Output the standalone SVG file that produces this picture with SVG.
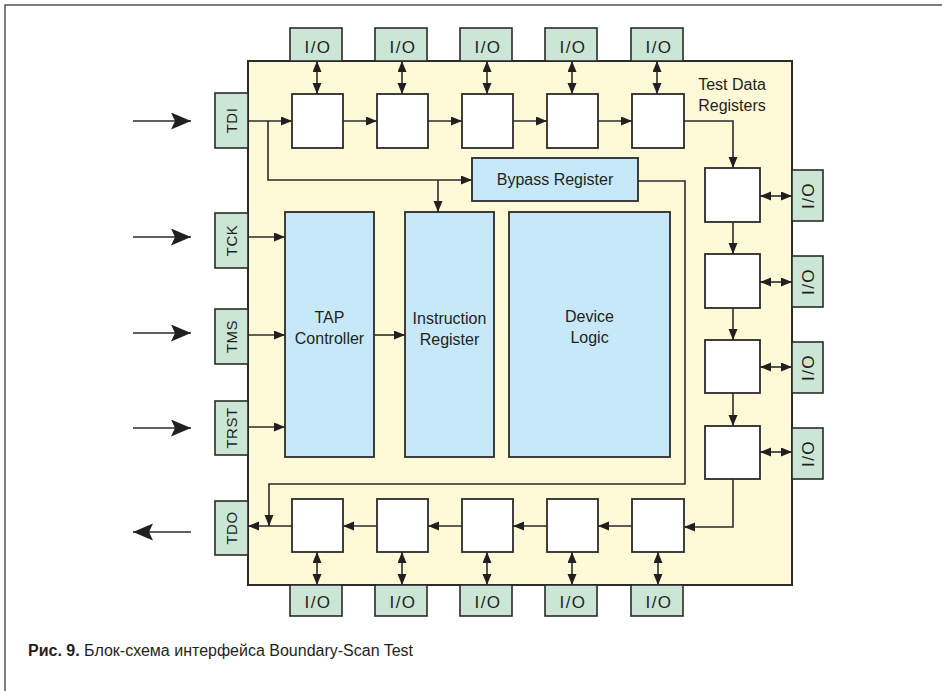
<svg xmlns="http://www.w3.org/2000/svg" width="942" height="691" viewBox="0 0 942 691">
<style>
.frame{fill:none;stroke:#555;stroke-width:1.5}
.chip{fill:#FEF9D6;stroke:#2b2b2b;stroke-width:2}
.pin{fill:#CCE6D5;stroke:#2b2b2b;stroke-width:1.6}
.blk{fill:#C7E8F9;stroke:#2b2b2b;stroke-width:1.8}
.cell{fill:#FFFFFF;stroke:#2b2b2b;stroke-width:1.8}
.ln{fill:none;stroke:#2b2b2b;stroke-width:1.6}
.a{marker-end:url(#ah)}
.aa{marker-end:url(#ah);marker-start:url(#ah)}
.big{marker-end:url(#bh)}
text{font-family:"Liberation Sans",Arial,sans-serif;fill:#231f20}
.lab{font-size:16px;text-anchor:middle}
.io{font-size:17px;letter-spacing:1.5px;text-anchor:middle}
.pl{font-size:15px;text-anchor:middle;dominant-baseline:central;letter-spacing:0.5px}
.cap{font-size:16px}
</style>
<defs>
<marker id="ah" markerUnits="userSpaceOnUse" markerWidth="12" markerHeight="10" refX="11" refY="4.5" orient="auto-start-reverse" viewBox="0 0 12 10">
<path d="M0,0 L11,4.5 L0,9 z" fill="#231f20"/>
</marker>
<marker id="bh" markerUnits="userSpaceOnUse" markerWidth="22" markerHeight="18" refX="20" refY="8.5" orient="auto-start-reverse" viewBox="0 0 22 18">
<path d="M0,0 L20,8.5 L0,17 L4,8.5 z" fill="#231f20"/>
</marker>
</defs>

<path class="frame" d="M5,691 L5,5 L942,5"/>

<g id="chip"><rect class="chip" x="248" y="61" width="544" height="524"/></g>

<g id="pins-left">
<g id="pin-TDI"><rect class="pin" x="215" y="93" width="33" height="55"/><text class="pl" transform="translate(231.5,120.5) rotate(-90)">TDI</text></g>
<g id="pin-TCK"><rect class="pin" x="215" y="213" width="33" height="55"/><text class="pl" transform="translate(231.5,240.5) rotate(-90)">TCK</text></g>
<g id="pin-TMS"><rect class="pin" x="215" y="309" width="33" height="55"/><text class="pl" transform="translate(231.5,336.5) rotate(-90)">TMS</text></g>
<g id="pin-TRST"><rect class="pin" x="215" y="401" width="33" height="54"/><text class="pl" transform="translate(231.5,428) rotate(-90)">TRST</text></g>
<g id="pin-TDO"><rect class="pin" x="215" y="501" width="33" height="54"/><text class="pl" transform="translate(231.5,528) rotate(-90)">TDO</text></g>
</g>

<g id="io-top">
<g id="io-t1"><rect class="pin" x="290" y="28" width="52" height="33"/><text class="io" x="318" y="53">I/O</text></g>
<g id="io-t2"><rect class="pin" x="375" y="28" width="52" height="33"/><text class="io" x="403" y="53">I/O</text></g>
<g id="io-t3"><rect class="pin" x="460" y="28" width="52" height="33"/><text class="io" x="488" y="53">I/O</text></g>
<g id="io-t4"><rect class="pin" x="545" y="28" width="52" height="33"/><text class="io" x="573" y="53">I/O</text></g>
<g id="io-t5"><rect class="pin" x="631" y="28" width="52" height="33"/><text class="io" x="659" y="53">I/O</text></g>
</g>

<g id="io-bottom">
<g id="io-b1"><rect class="pin" x="290" y="585" width="52" height="31"/><text class="io" x="318" y="608">I/O</text></g>
<g id="io-b2"><rect class="pin" x="375" y="585" width="52" height="31"/><text class="io" x="403" y="608">I/O</text></g>
<g id="io-b3"><rect class="pin" x="460" y="585" width="52" height="31"/><text class="io" x="488" y="608">I/O</text></g>
<g id="io-b4"><rect class="pin" x="545" y="585" width="52" height="31"/><text class="io" x="573" y="608">I/O</text></g>
<g id="io-b5"><rect class="pin" x="631" y="585" width="52" height="31"/><text class="io" x="659" y="608">I/O</text></g>
</g>

<g id="io-right">
<g id="io-r1"><rect class="pin" x="792" y="170" width="31" height="51"/><text class="io" text-anchor="middle" dominant-baseline="central" transform="translate(808,195.5) rotate(-90)">I/O</text></g>
<g id="io-r2"><rect class="pin" x="792" y="256" width="31" height="51"/><text class="io" dominant-baseline="central" transform="translate(808,281.5) rotate(-90)">I/O</text></g>
<g id="io-r3"><rect class="pin" x="792" y="342" width="31" height="51"/><text class="io" dominant-baseline="central" transform="translate(808,367.5) rotate(-90)">I/O</text></g>
<g id="io-r4"><rect class="pin" x="792" y="428" width="31" height="51"/><text class="io" dominant-baseline="central" transform="translate(808,453.5) rotate(-90)">I/O</text></g>
</g>

<g id="cells-top">
<rect id="ct1" class="cell" x="292" y="94" width="51" height="54"/>
<rect id="ct2" class="cell" x="377" y="94" width="51" height="54"/>
<rect id="ct3" class="cell" x="462" y="94" width="51" height="54"/>
<rect id="ct4" class="cell" x="547" y="94" width="51" height="54"/>
<rect id="ct5" class="cell" x="632" y="94" width="52" height="54"/>
</g>
<g id="cells-right">
<rect id="cr1" class="cell" x="705" y="168" width="55" height="54"/>
<rect id="cr2" class="cell" x="705" y="254" width="55" height="54"/>
<rect id="cr3" class="cell" x="705" y="340" width="55" height="53"/>
<rect id="cr4" class="cell" x="705" y="426" width="55" height="53"/>
</g>
<g id="cells-bottom">
<rect id="cb1" class="cell" x="292" y="499" width="51" height="53"/>
<rect id="cb2" class="cell" x="377" y="499" width="51" height="53"/>
<rect id="cb3" class="cell" x="462" y="499" width="51" height="53"/>
<rect id="cb4" class="cell" x="547" y="499" width="51" height="53"/>
<rect id="cb5" class="cell" x="632" y="499" width="52" height="53"/>
</g>

<g id="tap"><rect class="blk" x="285" y="212" width="89" height="245"/><text class="lab" x="329.5" y="323">TAP</text><text class="lab" x="329.5" y="344">Controller</text></g>
<g id="ir"><rect class="blk" x="405" y="212" width="89" height="245"/><text class="lab" x="449.5" y="324">Instruction</text><text class="lab" x="449.5" y="345">Register</text></g>
<g id="logic"><rect class="blk" x="509" y="212" width="161" height="245"/><text class="lab" x="589.5" y="322">Device</text><text class="lab" x="589.5" y="343">Logic</text></g>
<g id="bypass"><rect class="blk" x="472" y="158" width="166" height="43"/><text class="lab" x="555" y="185">Bypass Register</text></g>

<g id="tdr-label"><text class="lab" x="732" y="90">Test Data</text><text class="lab" x="732" y="111">Registers</text></g>

<g id="connectors">
<!-- external -->
<line class="ln big" x1="133" y1="121" x2="191" y2="121"/>
<line class="ln big" x1="133" y1="237" x2="191" y2="237"/>
<line class="ln big" x1="133" y1="333" x2="191" y2="333"/>
<line class="ln big" x1="133" y1="428" x2="191" y2="428"/>
<line class="ln big" x1="191" y1="532" x2="133" y2="532"/>
<!-- TDI chain top -->
<line class="ln a" x1="248" y1="121" x2="292" y2="121"/>
<line class="ln a" x1="343" y1="121" x2="377" y2="121"/>
<line class="ln a" x1="428" y1="121" x2="462" y2="121"/>
<line class="ln a" x1="513" y1="121" x2="547" y2="121"/>
<line class="ln a" x1="598" y1="121" x2="632" y2="121"/>
<polyline class="ln a" points="684,121 733,121 733,168"/>
<line class="ln a" x1="733" y1="222" x2="733" y2="254"/>
<line class="ln a" x1="733" y1="308" x2="733" y2="340"/>
<line class="ln a" x1="733" y1="393" x2="733" y2="426"/>
<polyline class="ln a" points="733,479 733,527 684,527"/>
<line class="ln a" x1="632" y1="526" x2="598" y2="526"/>
<line class="ln a" x1="547" y1="526" x2="513" y2="526"/>
<line class="ln a" x1="462" y1="526" x2="428" y2="526"/>
<line class="ln a" x1="377" y1="526" x2="343" y2="526"/>
<line class="ln a" x1="292" y1="526" x2="248" y2="526"/>
<!-- TDI branch to bypass and IR -->
<polyline class="ln a" points="268,121 268,180 472,180"/>
<line class="ln a" x1="438" y1="180" x2="438" y2="212"/>
<!-- bypass return -->
<polyline class="ln a" points="638,181 685,181 685,484 269,484 269,526"/>
<!-- control inputs -->
<line class="ln a" x1="248" y1="237" x2="285" y2="237"/>
<line class="ln a" x1="248" y1="335" x2="285" y2="335"/>
<line class="ln a" x1="248" y1="427" x2="285" y2="427"/>
<line class="ln a" x1="374" y1="335" x2="405" y2="335"/>
<!-- top I/O -->
<line class="ln aa" x1="317" y1="61" x2="317" y2="94"/>
<line class="ln aa" x1="402" y1="61" x2="402" y2="94"/>
<line class="ln aa" x1="487" y1="61" x2="487" y2="94"/>
<line class="ln aa" x1="572" y1="61" x2="572" y2="94"/>
<line class="ln aa" x1="657" y1="61" x2="657" y2="94"/>
<!-- bottom I/O -->
<line class="ln aa" x1="317" y1="552" x2="317" y2="585"/>
<line class="ln aa" x1="402" y1="552" x2="402" y2="585"/>
<line class="ln aa" x1="487" y1="552" x2="487" y2="585"/>
<line class="ln aa" x1="572" y1="552" x2="572" y2="585"/>
<line class="ln aa" x1="658" y1="552" x2="658" y2="585"/>
<!-- right I/O -->
<line class="ln aa" x1="760" y1="196" x2="792" y2="196"/>
<line class="ln aa" x1="760" y1="282" x2="792" y2="282"/>
<line class="ln aa" x1="760" y1="367" x2="792" y2="367"/>
<line class="ln aa" x1="760" y1="452" x2="792" y2="452"/>
</g>

<text class="cap" x="28" y="656"><tspan font-weight="bold">Рис. 9.</tspan> Блок-схема интерфейса Boundary-Scan Test</text>
</svg>
